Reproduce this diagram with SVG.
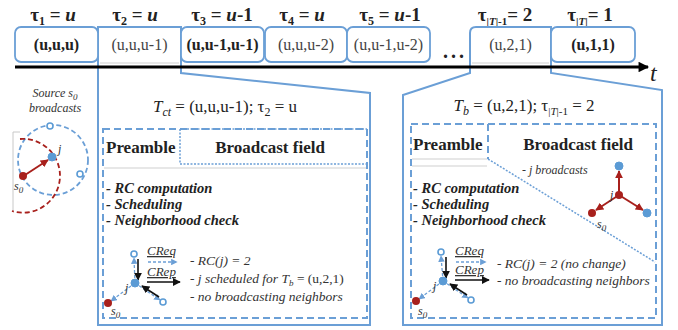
<svg xmlns="http://www.w3.org/2000/svg" width="678" height="330" viewBox="0 0 678 330">
<style>
text{font-family:"Liberation Serif","Times New Roman",serif;fill:#222}
.tau{font-size:19px;font-weight:bold}
.box{fill:#fff;stroke:#6b9fd6;stroke-width:1.8}
.bt{font-size:16px;text-anchor:middle}
.b{font-weight:bold}
.n{fill:#444}
.panel{fill:none;stroke:#6b9fd6;stroke-width:2}
.dash{fill:none;stroke:#6b9fd6;stroke-width:2;stroke-dasharray:7 4}
.dot{fill:none;stroke:#6b9fd6;stroke-width:1.5;stroke-dasharray:2 1.5}
.sep{stroke:#cfcfcf;stroke-width:1}
.title{font-size:17px;text-anchor:middle}
.hdr{font-size:17px;font-weight:bold}
.bul{font-size:14.5px;font-weight:bold;font-style:italic}
.it{font-size:13.5px;font-style:italic;fill:#333}
.lbl{font-size:12px;font-style:italic;fill:#333}
.msg{font-size:13px;font-style:italic;fill:#333;text-decoration:underline}
.bl{stroke:#6b9fd6;stroke-width:1.3;stroke-dasharray:3 2;fill:none}
.blk{stroke:#111;stroke-width:1.6;fill:none}
.red{stroke:#a8201c;stroke-width:2;fill:none}
.nb{fill:#5b9bd5;stroke:#5b9bd5}
.no{fill:#fff;stroke:#5b9bd5;stroke-width:1.6}
.nr{fill:#a8201c}
</style>
<defs>
<marker id="ak" viewBox="0 0 10 10" refX="9" refY="5" markerWidth="5" markerHeight="5" orient="auto"><path d="M0,0 L10,5 L0,10 z" fill="#111"/></marker>
<marker id="ab" viewBox="0 0 10 10" refX="9" refY="5" markerWidth="5" markerHeight="5" orient="auto"><path d="M0,0 L10,5 L0,10 z" fill="#6b9fd6"/></marker>
<marker id="ar" viewBox="0 0 10 10" refX="9" refY="5" markerWidth="4" markerHeight="4" orient="auto"><path d="M0,0 L10,5 L0,10 z" fill="#a8201c"/></marker>
<marker id="at" viewBox="0 0 10 10" refX="9" refY="5" markerWidth="4" markerHeight="3.5" orient="auto"><path d="M0,0 L10,5 L0,10 z" fill="#000"/></marker>
</defs>

<!-- tau labels -->
<g id="tau-labels">
<text class="tau" x="53" y="21" text-anchor="middle">τ<tspan font-size="12" dy="4">1</tspan><tspan dy="-4"> = </tspan><tspan font-style="italic">u</tspan></text>
<text class="tau" x="135" y="21" text-anchor="middle">τ<tspan font-size="12" dy="4">2</tspan><tspan dy="-4"> = </tspan><tspan font-style="italic">u</tspan></text>
<text class="tau" x="222" y="21" text-anchor="middle">τ<tspan font-size="12" dy="4">3</tspan><tspan dy="-4"> = </tspan><tspan font-style="italic">u</tspan>-1</text>
<text class="tau" x="302" y="21" text-anchor="middle">τ<tspan font-size="12" dy="4">4</tspan><tspan dy="-4"> = </tspan><tspan font-style="italic">u</tspan></text>
<text class="tau" x="390" y="21" text-anchor="middle">τ<tspan font-size="12" dy="4">5</tspan><tspan dy="-4"> = </tspan><tspan font-style="italic">u</tspan>-1</text>
<text class="tau" x="505" y="21" text-anchor="middle">τ<tspan font-size="11" dy="4">|<tspan font-style="italic">T</tspan>|-1</tspan><tspan dy="-4">= 2</tspan></text>
<text class="tau" x="590" y="21" text-anchor="middle">τ<tspan font-size="11" dy="4">|<tspan font-style="italic">T</tspan>|</tspan><tspan dy="-4">= 1</tspan></text>
</g>

<!-- callout panels -->
<g id="panel-ct">
<path class="panel" d="M98,325 L98,27 L181,27 L181,73 L370,93 L370,325 Z" fill="#fff"/>
<line class="sep" x1="100" y1="63" x2="179" y2="63"/>
<text class="bt n" x="139.5" y="50">(u,u,u-1)</text>
<text class="title" x="225" y="112"><tspan font-style="italic">T</tspan><tspan font-style="italic" font-size="12" dy="4">ct</tspan><tspan dy="-4"> = (u,u,u-1); τ</tspan><tspan font-size="12" dy="4">2</tspan><tspan dy="-4"> = u</tspan></text>
<rect class="dash" x="103" y="129" width="264" height="189"/>
<path class="dot" d="M180,129 L180,164 L367,164"/>
<path class="dot" d="M180,129 L367,129"/>
<line class="sep" x1="104" y1="168" x2="366" y2="168"/>
<text class="hdr" x="106" y="153">Preamble</text>
<text class="hdr" x="270" y="153" text-anchor="middle">Broadcast field</text>
<text class="bul" x="106" y="193">- RC computation</text>
<text class="bul" x="106" y="209">- Scheduling</text>
<text class="bul" x="106" y="225">- Neighborhood check</text>
<text class="msg" x="147" y="255">CReq</text>
<text class="msg" x="147" y="276">CRep</text>
<text class="it" x="190" y="265">- RC(<tspan>j</tspan>) = 2</text>
<text class="it" x="190" y="283">- j scheduled for T<tspan font-size="9" dy="3">b</tspan><tspan dy="-3" font-style="normal"> = (u,2,1)</tspan></text>
<text class="it" x="190" y="301">- no broadcasting neighbors</text>
</g>

<g id="panel-b">
<path class="panel" d="M470,62 L470,33 Q470,27 476,27 L551,27 L551,73 L662,90 L662,325 L403,325 L403,95 L470,73 Z" fill="#fff"/>
<line class="sep" x1="472" y1="63" x2="549" y2="63"/>
<text class="bt n" x="510.5" y="50">(u,2,1)</text>
<text class="title" x="524" y="111"><tspan font-style="italic">T</tspan><tspan font-style="italic" font-size="12" dy="4">b</tspan><tspan dy="-4"> = (u,2,1); τ</tspan><tspan font-size="11" dy="4">|<tspan font-style="italic">T</tspan>|-1</tspan><tspan dy="-4"> = 2</tspan></text>
<rect class="dash" x="411" y="124" width="245" height="194"/>
<path class="dash" d="M488,124 L488,159"/>
<line class="sep" x1="412" y1="159" x2="487" y2="159"/>
<line class="sep" x1="412" y1="166" x2="487" y2="166"/>
<path class="dot" d="M488,159 L655,262"/>
<text class="hdr" x="413" y="150">Preamble</text>
<text class="hdr" x="578" y="150" text-anchor="middle">Broadcast field</text>
<text class="lbl" x="522" y="174">- j broadcasts</text>
<text class="bul" x="413" y="193">- RC computation</text>
<text class="bul" x="413" y="209">- Scheduling</text>
<text class="bul" x="413" y="225">- Neighborhood check</text>
<text class="msg" x="455" y="255">CReq</text>
<text class="msg" x="455" y="274">CRep</text>
<text class="it" x="497" y="268">- RC(j) = 2 (no change)</text>
<text class="it" x="497" y="285">- no broadcasting neighbors</text>
</g>

<!-- timeline boxes -->
<g id="box-1"><rect class="box" x="15" y="27" width="83" height="35" rx="6"/><text class="bt b" x="56.5" y="50">(u,u,u)</text></g>
<g id="box-3"><rect class="box" x="181" y="27" width="83" height="35" rx="6"/><text class="bt b" x="222.5" y="50" font-size="15">(u,u-1,u-1)</text></g>
<g id="box-4"><rect class="box" x="265" y="27" width="82" height="35" rx="6"/><text class="bt n" x="306" y="50">(u,u,u-2)</text></g>
<g id="box-5"><rect class="box" x="347" y="27" width="83" height="35" rx="6"/><text class="bt n" x="388.5" y="50">(u,u-1,u-2)</text></g>
<g id="ellipsis"><text x="455" y="58" font-size="20" font-weight="bold" text-anchor="middle" letter-spacing="3">...</text></g>
<g id="box-T"><rect class="box" x="551" y="27" width="84" height="35" rx="6"/><text class="bt b" x="593" y="50">(u,1,1)</text></g>

<!-- source broadcast sketch -->
<g id="source">
<text class="lbl" x="55" y="97" text-anchor="middle" font-size="13" fill="#555">Source s<tspan font-size="9" dy="3">0</tspan></text>
<text class="lbl" x="55" y="112" text-anchor="middle" font-size="13" fill="#555">broadcasts</text>
<path d="M20,132 L13,132 L13,211" fill="none" stroke="#c8c8c8" stroke-width="1"/>
<circle cx="53" cy="160" r="35" fill="none" stroke="#6b9fd6" stroke-width="1.8" stroke-dasharray="5 3"/>
<path d="M20,139 A37,37 0 0 1 60,176 A37,37 0 0 1 12,211" fill="none" stroke="#a8201c" stroke-width="1.8" stroke-dasharray="5 3"/>
<circle class="no" cx="50" cy="126" r="3"/>
<circle class="no" cx="80" cy="174" r="3"/>
<circle class="nb" cx="52" cy="157" r="4"/>
<circle class="nr" cx="23" cy="176" r="4"/>
<text class="lbl" x="58" y="153">j</text>
<text class="lbl" x="14" y="190">s<tspan font-size="9" dy="3">0</tspan></text>
</g>

<!-- connectors -->
<g id="connectors">
<line x1="15" y1="67" x2="648" y2="67" stroke="#000" stroke-width="3" marker-end="url(#at)"/>
<line x1="25" y1="175" x2="48" y2="160" class="red" marker-end="url(#ar)"/>
<!-- left small graph -->
<line class="bl" x1="135" y1="283" x2="134" y2="258" marker-end="url(#ab)"/>
<line class="bl" x1="135" y1="283" x2="160" y2="300" marker-end="url(#ab)"/>
<line class="bl" x1="135" y1="283" x2="111" y2="301" marker-end="url(#ab)"/>
<line class="blk" x1="138" y1="259" x2="138" y2="280" marker-end="url(#ak)"/>
<line class="blk" x1="159" y1="297" x2="142" y2="286" marker-end="url(#ak)"/>
<line class="bl" x1="148" y1="262" x2="177" y2="262" marker-end="url(#ab)"/>
<line class="blk" x1="147" y1="282" x2="180" y2="282" marker-end="url(#ak)"/>
<!-- right small graph -->
<line class="bl" x1="443" y1="281" x2="441" y2="256" marker-end="url(#ab)"/>
<line class="bl" x1="443" y1="281" x2="468" y2="298" marker-end="url(#ab)"/>
<line class="bl" x1="443" y1="281" x2="419" y2="299" marker-end="url(#ab)"/>
<line class="blk" x1="446" y1="257" x2="446" y2="278" marker-end="url(#ak)"/>
<line class="blk" x1="467" y1="295" x2="450" y2="284" marker-end="url(#ak)"/>
<line class="bl" x1="456" y1="262" x2="486" y2="262" marker-end="url(#ab)"/>
<line class="blk" x1="455" y1="280" x2="489" y2="280" marker-end="url(#ak)"/>
<!-- red broadcast graph -->
<line class="red" x1="619" y1="195" x2="619" y2="171" marker-end="url(#ar)"/>
<line class="red" x1="619" y1="195" x2="596" y2="210" marker-end="url(#ar)"/>
<line class="red" x1="619" y1="195" x2="643" y2="210" marker-end="url(#ar)"/>
</g>

<g id="nodes-left-graph">
<circle class="no" cx="134" cy="254" r="3"/>
<circle class="nb" cx="135" cy="283" r="4"/>
<circle class="no" cx="163" cy="302" r="3"/>
<circle class="nr" cx="108" cy="303" r="4"/>
<text class="lbl" x="125" y="292">j</text>
<text class="lbl" x="111" y="315">s<tspan font-size="9" dy="3">0</tspan></text>
</g>
<g id="nodes-right-graph">
<circle class="no" cx="441" cy="252" r="3"/>
<circle class="nb" cx="443" cy="281" r="4"/>
<circle class="no" cx="471" cy="300" r="3"/>
<circle class="nr" cx="416" cy="301" r="4"/>
<text class="lbl" x="433" y="290">j</text>
<text class="lbl" x="418" y="315">s<tspan font-size="9" dy="3">0</tspan></text>
</g>
<g id="nodes-red-graph">
<circle class="nb" cx="619" cy="166" r="4"/>
<circle class="nr" cx="619" cy="195" r="4"/>
<circle class="nr" cx="592" cy="213" r="4"/>
<circle class="nb" cx="647" cy="213" r="4"/>
<text class="lbl" x="610" y="199">j</text>
<text class="lbl" x="597" y="228">s<tspan font-size="9" dy="3">0</tspan></text>
</g>

<g id="axis-label"><text x="650" y="81" font-size="24" font-style="italic">t</text></g>
</svg>
